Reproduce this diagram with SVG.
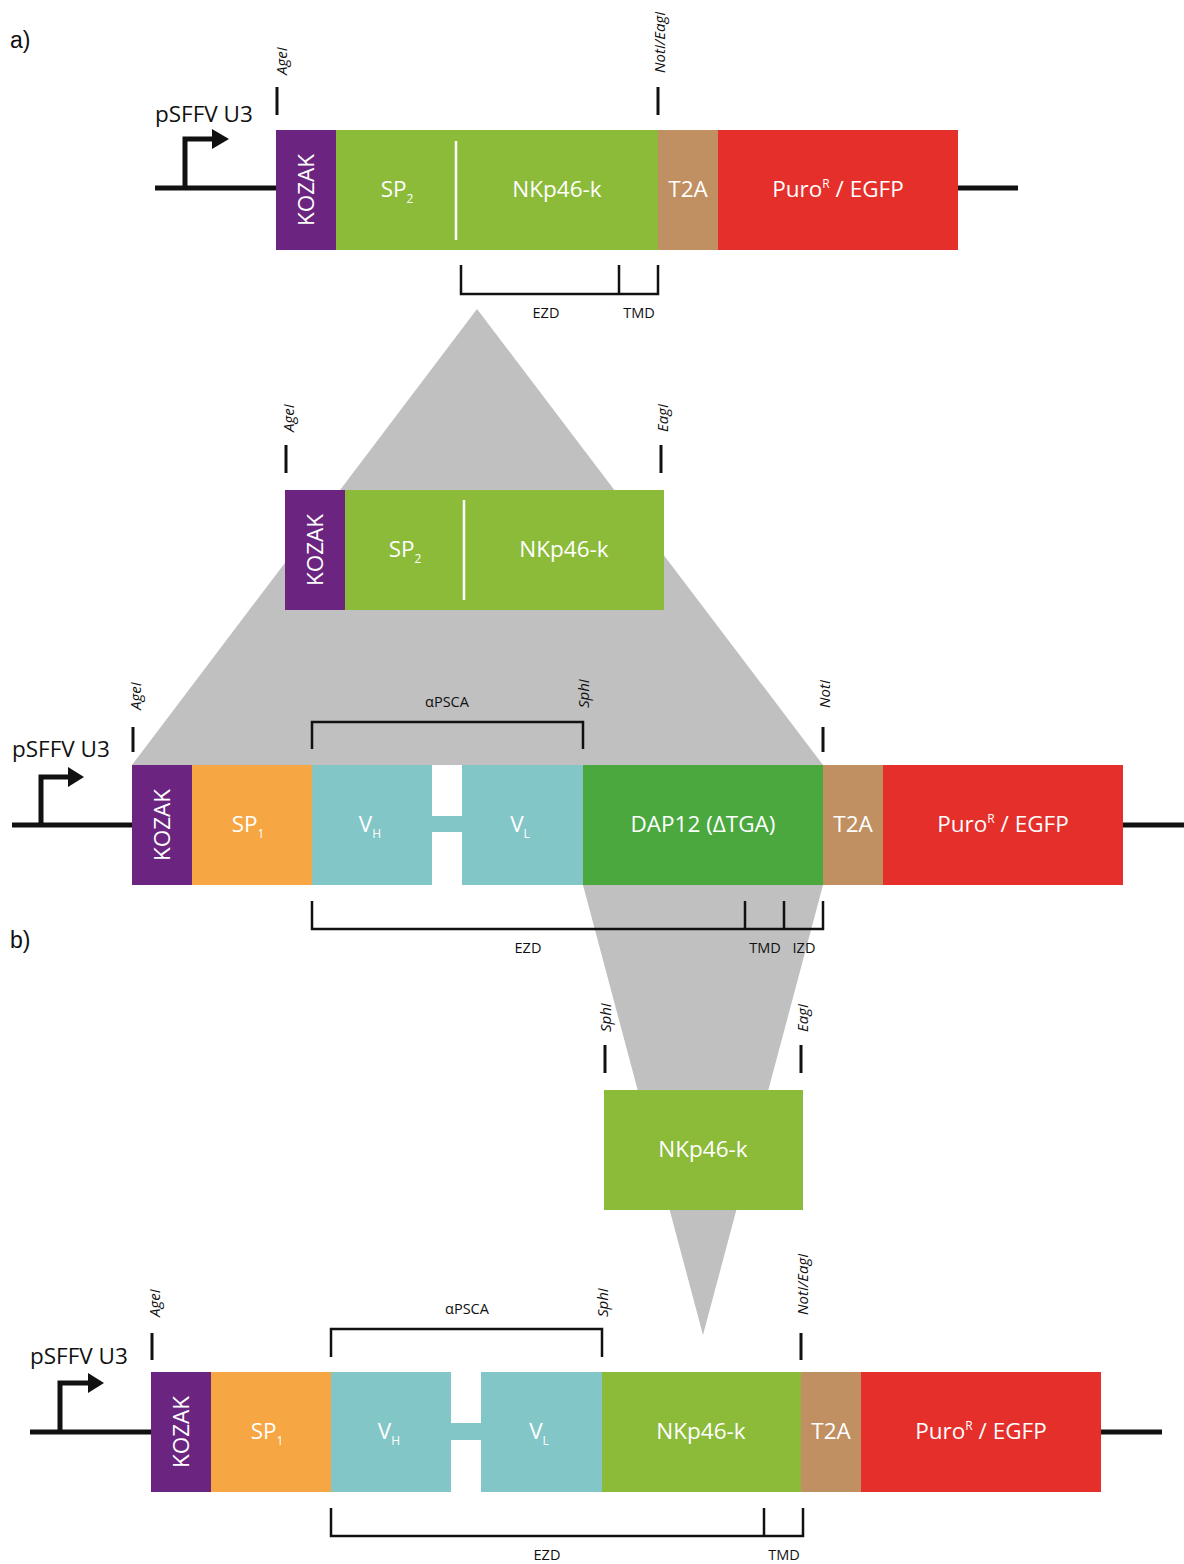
<svg xmlns="http://www.w3.org/2000/svg" width="1184" height="1564" viewBox="0 0 1184 1564">
<style>
.bg{fill:#ffffff}
.wedge{fill:#c0c0c0}
.bb{stroke:#111;stroke-width:5;fill:none}
.tick{stroke:#111;stroke-width:3;fill:none}
.br{stroke:#111;stroke-width:2.5;fill:none}
.kz{fill:#6b2480}
.ng{fill:#8cbb3a}
.dg{fill:#4aa83f}
.t2{fill:#c09063}
.pr{fill:#e42f2b}
.sp{fill:#f6a642}
.vc{fill:#82c6c8}
.wt{font-family:"Open Sans","Liberation Sans",sans-serif;font-size:22.5px;fill:#ffffff;text-anchor:middle}
.sub{font-size:12px}
.pl{font-family:"Open Sans","Liberation Sans",sans-serif;font-size:22.5px;fill:#111}
.sm{font-family:"Open Sans","Liberation Sans",sans-serif;font-size:14.5px;fill:#111;text-anchor:middle}
.re{font-family:"Open Sans","Liberation Sans",sans-serif;font-size:15px;font-style:italic;fill:#111}
.hd{font-family:"Liberation Sans",Arial,sans-serif;font-size:23px;fill:#111}
</style>
<rect class="bg" x="0" y="0" width="1184" height="1564"/>

<g id="connectors">
  <polygon class="wedge" points="477,309 132,765 823,765"/>
  <polygon class="wedge" points="583,885 823,885 703,1335"/>
</g>

<text class="hd" x="10" y="48">a)</text>
<text class="hd" x="10" y="948">b)</text>

<!-- Construct a -->
<g id="construct-a">
  <path class="bb" d="M155,188 H276 M958,188 H1018"/>
  <path class="bb" d="M185,188 V139 H215"/>
  <polygon fill="#111" points="212,129 229,139 212,149"/>
  <text class="pl" x="155" y="122">pSFFV U3</text>
  <line class="tick" x1="277" y1="87" x2="277" y2="115"/>
  <text class="re" transform="translate(287,75) rotate(-90)">AgeI</text>
  <line class="tick" x1="658" y1="87" x2="658" y2="115"/>
  <text class="re" transform="translate(665,73) rotate(-90)">NotI/EagI</text>
  <rect class="kz" x="276" y="130" width="60" height="120"/>
  <text class="wt" transform="translate(314,190) rotate(-90)">KOZAK</text>
  <rect class="ng" x="336" y="130" width="322" height="120"/>
  <line x1="456" y1="141" x2="456" y2="240" stroke="#fff" stroke-width="2.5"/>
  <text class="wt" x="397" y="197">SP<tspan class="sub" dy="6">2</tspan></text>
  <text class="wt" x="557" y="197">NKp46-k</text>
  <rect class="t2" x="658" y="130" width="60" height="120"/>
  <text class="wt" x="688" y="197">T2A</text>
  <rect class="pr" x="718" y="130" width="240" height="120"/>
  <text class="wt" x="838" y="197">Puro<tspan class="sub" dy="-9">R</tspan><tspan dy="9"> / EGFP</tspan></text>
  <path class="br" d="M461,265 V294 H658 V265 M619,265 V294"/>
  <text class="sm" x="546" y="318">EZD</text>
  <text class="sm" x="639" y="318">TMD</text>
</g>

<!-- Insert 1 -->
<g id="insert-1">
  <line class="tick" x1="286" y1="445" x2="286" y2="473"/>
  <text class="re" transform="translate(294,432) rotate(-90)">AgeI</text>
  <line class="tick" x1="661" y1="445" x2="661" y2="473"/>
  <text class="re" transform="translate(668,432) rotate(-90)">EagI</text>
  <rect class="kz" x="285" y="490" width="60" height="120"/>
  <text class="wt" transform="translate(323,550) rotate(-90)">KOZAK</text>
  <rect class="ng" x="345" y="490" width="319" height="120"/>
  <line x1="464" y1="500" x2="464" y2="600" stroke="#fff" stroke-width="2.5"/>
  <text class="wt" x="405" y="557">SP<tspan class="sub" dy="6">2</tspan></text>
  <text class="wt" x="564" y="557">NKp46-k</text>
</g>

<!-- Construct b1 -->
<g id="construct-b1">
  <path class="bb" d="M12,825 H132 M1123,825 H1184"/>
  <path class="bb" d="M41,825 V777 H70"/>
  <polygon fill="#111" points="68,767 84,777 68,787"/>
  <text class="pl" x="12" y="757">pSFFV U3</text>
  <line class="tick" x1="133" y1="727" x2="133" y2="752"/>
  <text class="re" transform="translate(141,710) rotate(-90)">AgeI</text>
  <path class="br" d="M312,749 V722 H583 V749"/>
  <text class="sm" x="447" y="707">αPSCA</text>
  <text class="re" transform="translate(589,708) rotate(-90)">SphI</text>
  <line class="tick" x1="823" y1="727" x2="823" y2="752"/>
  <text class="re" transform="translate(830,708) rotate(-90)">NotI</text>
  <rect class="kz" x="132" y="765" width="60" height="120"/>
  <text class="wt" transform="translate(170,825) rotate(-90)">KOZAK</text>
  <rect class="sp" x="192" y="765" width="120" height="120"/>
  <text class="wt" x="248" y="832">SP<tspan class="sub" dy="6">1</tspan></text>
  <rect class="vc" x="312" y="765" width="120" height="120"/>
  <rect class="vc" x="431" y="816" width="32" height="16"/>
  <rect class="vc" x="462" y="765" width="121" height="120"/>
  <text class="wt" x="370" y="832">V<tspan class="sub" dy="6">H</tspan></text>
  <text class="wt" x="520" y="832">V<tspan class="sub" dy="6">L</tspan></text>
  <rect class="dg" x="583" y="765" width="240" height="120"/>
  <text class="wt" x="703" y="832">DAP12 (ΔTGA)</text>
  <rect class="t2" x="823" y="765" width="60" height="120"/>
  <text class="wt" x="853" y="832">T2A</text>
  <rect class="pr" x="883" y="765" width="240" height="120"/>
  <text class="wt" x="1003" y="832">Puro<tspan class="sub" dy="-9">R</tspan><tspan dy="9"> / EGFP</tspan></text>
  <path class="br" d="M312,901 V929 H823 V901 M745,901 V929 M784,901 V929"/>
  <text class="sm" x="528" y="953">EZD</text>
  <text class="sm" x="765" y="953">TMD</text>
  <text class="sm" x="804" y="953">IZD</text>
</g>

<!-- Insert 2 -->
<g id="insert-2">
  <line class="tick" x1="605" y1="1045" x2="605" y2="1073"/>
  <text class="re" transform="translate(611,1032) rotate(-90)">SphI</text>
  <line class="tick" x1="801" y1="1045" x2="801" y2="1073"/>
  <text class="re" transform="translate(808,1032) rotate(-90)">EagI</text>
  <rect class="ng" x="604" y="1090" width="199" height="120"/>
  <text class="wt" x="703" y="1157">NKp46-k</text>
</g>

<!-- Construct b2 -->
<g id="construct-b2">
  <path class="bb" d="M30,1432 H151 M1101,1432 H1162"/>
  <path class="bb" d="M60,1432 V1383 H90"/>
  <polygon fill="#111" points="88,1373 104,1383 88,1393"/>
  <text class="pl" x="30" y="1364">pSFFV U3</text>
  <line class="tick" x1="152" y1="1333" x2="152" y2="1360"/>
  <text class="re" transform="translate(160,1317) rotate(-90)">AgeI</text>
  <path class="br" d="M331,1357 V1329 H602 V1357"/>
  <text class="sm" x="467" y="1314">αPSCA</text>
  <text class="re" transform="translate(608,1317) rotate(-90)">SphI</text>
  <line class="tick" x1="801" y1="1333" x2="801" y2="1360"/>
  <text class="re" transform="translate(808,1315) rotate(-90)">NotI/EagI</text>
  <rect class="kz" x="151" y="1372" width="60" height="120"/>
  <text class="wt" transform="translate(189,1432) rotate(-90)">KOZAK</text>
  <rect class="sp" x="211" y="1372" width="120" height="120"/>
  <text class="wt" x="267" y="1439">SP<tspan class="sub" dy="6">1</tspan></text>
  <rect class="vc" x="331" y="1372" width="120" height="120"/>
  <rect class="vc" x="450" y="1423" width="32" height="17"/>
  <rect class="vc" x="481" y="1372" width="121" height="120"/>
  <text class="wt" x="389" y="1439">V<tspan class="sub" dy="6">H</tspan></text>
  <text class="wt" x="539" y="1439">V<tspan class="sub" dy="6">L</tspan></text>
  <rect class="ng" x="602" y="1372" width="199" height="120"/>
  <text class="wt" x="701" y="1439">NKp46-k</text>
  <rect class="t2" x="801" y="1372" width="60" height="120"/>
  <text class="wt" x="831" y="1439">T2A</text>
  <rect class="pr" x="861" y="1372" width="240" height="120"/>
  <text class="wt" x="981" y="1439">Puro<tspan class="sub" dy="-9">R</tspan><tspan dy="9"> / EGFP</tspan></text>
  <path class="br" d="M331,1508 V1536 H803 V1508 M764,1508 V1536"/>
  <text class="sm" x="547" y="1560">EZD</text>
  <text class="sm" x="784" y="1560">TMD</text>
</g>
</svg>
